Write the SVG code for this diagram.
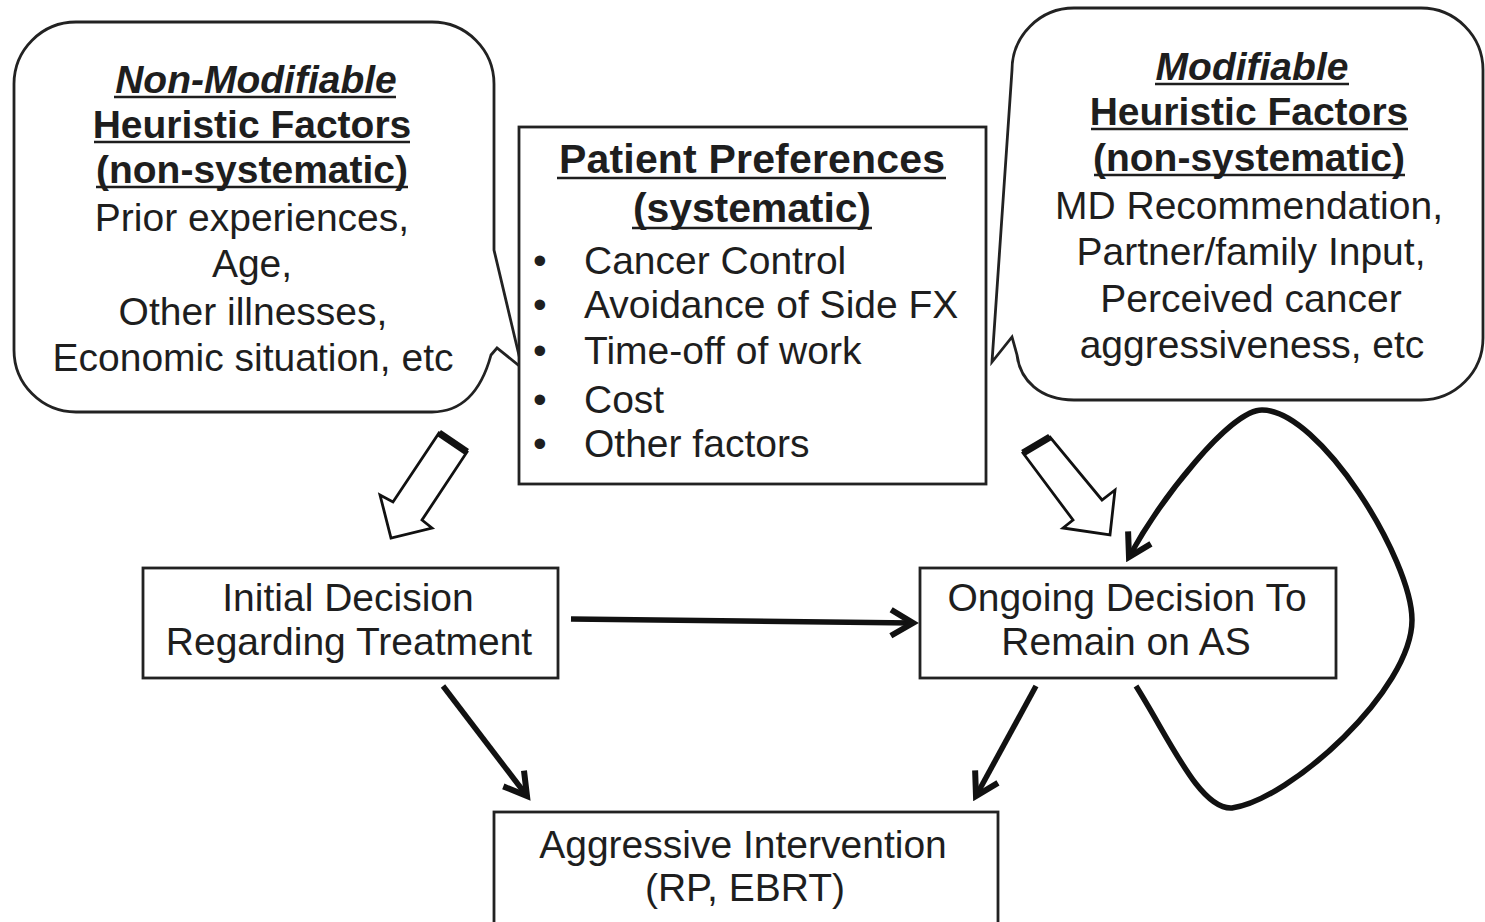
<svg xmlns="http://www.w3.org/2000/svg" width="1485" height="922" viewBox="0 0 1485 922">
<defs>
<style>
.t{font-family:"Liberation Sans",Arial,sans-serif;font-size:39px;fill:#1e1e1e;}
.c{text-anchor:middle;}
.h{font-weight:bold;}
.pp{font-size:41px;}
.ul{stroke:#1e1e1e;stroke-width:2.6;}
.shape{fill:#fff;stroke:#222;stroke-width:2.8;}
.box{fill:#fff;stroke:#222;stroke-width:2.8;}
.con{fill:none;stroke:#111;stroke-width:5.5;stroke-linecap:butt;}
.hollow{fill:#fff;stroke:#111;stroke-width:2.8;stroke-linejoin:miter;}
.tail{stroke:#111;stroke-width:7;}
</style>
<marker id="ah" viewBox="-4 -4 32 34" refX="22" refY="13" markerWidth="32" markerHeight="34" markerUnits="userSpaceOnUse" orient="auto">
<path d="M0,0 L22,13 L0,26" fill="none" stroke="#111" stroke-width="6"/>
</marker>
</defs>

<g id="nonmod">
<path class="shape" d="M76,22 H432 A62,62 0 0 1 494,84 V250 L522,368 L497,348 L491,355 C480,395 460,412 432,412 H76 A62,62 0 0 1 14,350 V84 A62,62 0 0 1 76,22 Z"/>
<text class="t c h" x="256" y="93" font-style="italic">Non-Modifiable</text>
<line class="ul" x1="114" y1="97" x2="396" y2="97"/>
<text class="t c h" x="252" y="138">Heuristic Factors</text>
<line class="ul" x1="94" y1="142" x2="410" y2="142"/>
<text class="t c h" x="252" y="183">(non-systematic)</text>
<line class="ul" x1="96" y1="187" x2="408" y2="187"/>
<text class="t c" x="252" y="231">Prior experiences,</text>
<text class="t c" x="252" y="277">Age,</text>
<text class="t c" x="253" y="325">Other illnesses,</text>
<text class="t c" x="253" y="371">Economic situation, etc</text>
</g>

<g id="mod">
<path class="shape" d="M1074,8 H1421 A62,62 0 0 1 1483,70 V338 A62,62 0 0 1 1421,400 H1074 C1040,400 1020,380 1017,355 L1012,337 L992,362 L1012,70 A62,62 0 0 1 1074,8 Z"/>
<text class="t c h" x="1252" y="80" font-style="italic">Modifiable</text>
<line class="ul" x1="1155" y1="84" x2="1349" y2="84"/>
<text class="t c h" x="1249" y="125">Heuristic Factors</text>
<line class="ul" x1="1091" y1="129" x2="1408" y2="129"/>
<text class="t c h" x="1249" y="171">(non-systematic)</text>
<line class="ul" x1="1094" y1="175" x2="1405" y2="175"/>
<text class="t c" x="1249" y="219">MD Recommendation,</text>
<text class="t c" x="1251" y="265">Partner/family Input,</text>
<text class="t c" x="1251" y="312">Perceived cancer</text>
<text class="t c" x="1252" y="358">aggressiveness, etc</text>
</g>

<g id="prefs">
<rect class="box" x="519" y="127" width="467" height="357"/>
<text class="t c h pp" x="752" y="173" textLength="386" lengthAdjust="spacing">Patient Preferences</text>
<line class="ul" x1="557" y1="178" x2="946" y2="178"/>
<text class="t c h pp" x="752" y="222" textLength="238" lengthAdjust="spacing">(systematic)</text>
<line class="ul" x1="632" y1="228" x2="872" y2="228"/>
<text class="t" x="533" y="274">•</text>
<text class="t" x="584" y="274">Cancer Control</text>
<text class="t" x="533" y="318">•</text>
<text class="t" x="584" y="318">Avoidance of Side FX</text>
<text class="t" x="533" y="364">•</text>
<text class="t" x="584" y="364">Time-off of work</text>
<text class="t" x="533" y="413">•</text>
<text class="t" x="584" y="413">Cost</text>
<text class="t" x="533" y="457">•</text>
<text class="t" x="584" y="457">Other factors</text>
</g>

<g id="initial">
<rect class="box" x="143" y="568" width="415" height="110"/>
<text class="t c" x="348" y="611">Initial Decision</text>
<text class="t c" x="349" y="655">Regarding Treatment</text>
</g>

<g id="ongoing">
<rect class="box" x="920" y="568" width="416" height="110"/>
<text class="t c" x="1127" y="611">Ongoing Decision To</text>
<text class="t c" x="1126" y="655">Remain on AS</text>
</g>

<g id="aggressive">
<rect class="box" x="494" y="812" width="504" height="140"/>
<text class="t c" x="743" y="858">Aggressive Intervention</text>
<text class="t c" x="745" y="901">(RP, EBRT)</text>
</g>

<g id="connectors">
<polygon class="hollow" points="439,433 467,452 422,520 432,528 391,538 380,495 393,502"/>
<line class="tail" x1="439" y1="433" x2="467" y2="452"/>
<polygon class="hollow" points="1023,453 1050,437 1102,500 1115,490 1110,535 1063,528 1073,520"/>
<line class="tail" x1="1023" y1="453" x2="1050" y2="437"/>
<path class="con" d="M571,619 L913,623" marker-end="url(#ah)"/>
<path class="con" d="M443,686 L527,796" marker-end="url(#ah)"/>
<path class="con" d="M1036,686 L976,796" marker-end="url(#ah)"/>
<path class="con" d="M1136,686 C1170,740 1200,810 1232,808 C1290,800 1412,690 1412,620 C1412,560 1320,410 1262,410 C1230,410 1160,500 1129,557" marker-end="url(#ah)"/>
</g>
</svg>
